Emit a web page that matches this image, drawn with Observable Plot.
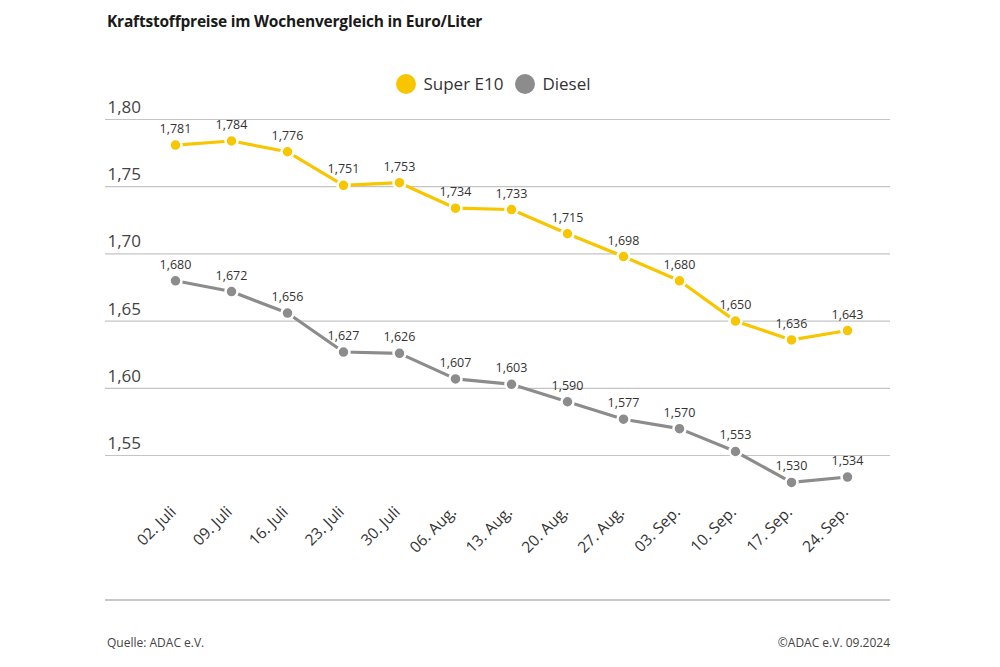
<!DOCTYPE html>
<html>
<head>
<meta charset="utf-8">
<script src="https://cdn.jsdelivr.net/npm/d3@7"></script>
<script src="https://cdn.jsdelivr.net/npm/@observablehq/plot@0.6"></script>
<style>
  html, body { margin: 0; padding: 0; background: #fff; }
  #wrap { position: relative; width: 1000px; height: 667px; font-family: "Open Sans", sans-serif; color: #222; overflow: hidden; }
  #title { position: absolute; left: 107px; top: 10px; font-size: 15.5px; font-weight: 700; color: #1a1a1a; letter-spacing: -0.2px; }
  #legend { position: absolute; left: 95px; width: 785px; top: 72px; display: flex; justify-content: center; align-items: center; font-size: 17px; color: #333; }
  .sw { display: inline-block; width: 20px; height: 20px; border-radius: 50%; margin: 0 7px 0 12px; }
  #chart { position: absolute; left: 0; top: 90px; }
  #rule { position: absolute; left: 105px; width: 785px; top: 599px; height: 0; border-top: 2.5px solid #c8c8c8; }
  #src { position: absolute; left: 107px; top: 634px; font-size: 12px; color: #444; }
  #copy { position: absolute; right: 110px; top: 634px; font-size: 12px; color: #444; }
</style>
</head>
<body>
<div id="wrap">
  <div id="title">Kraftstoffpreise im Wochenvergleich in Euro/Liter</div>
  <div id="legend"></div>
  <div id="chart"></div>
  <div id="rule"></div>
  <div id="src">Quelle: ADAC e.V.</div>
  <div id="copy">©ADAC e.V. 09.2024</div>
</div>
<script>
const dates = ["02. Juli","09. Juli","16. Juli","23. Juli","30. Juli","06. Aug.","13. Aug.","20. Aug.","27. Aug.","03. Sep.","10. Sep.","17. Sep.","24. Sep."];
const superE10 = [1.781,1.784,1.776,1.751,1.753,1.734,1.733,1.715,1.698,1.680,1.650,1.636,1.643];
const diesel = [1.680,1.672,1.656,1.627,1.626,1.607,1.603,1.590,1.577,1.570,1.553,1.530,1.534];
const yTicks = [1.80,1.75,1.70,1.65,1.60,1.55];
const seriesNames = ["Super E10","Diesel"];
const seriesColors = ["#f7c600","#8c8c8c"];

const de = d3.formatLocale({decimal: ",", thousands: ".", grouping: [3], currency: ["", " €"]});
const f3 = de.format(".3f");
const f2 = de.format(".2f");

const data = [];
dates.forEach((d, i) => {
  data.push({date: d, value: superE10[i], series: seriesNames[0]});
  data.push({date: d, value: diesel[i], series: seriesNames[1]});
});

// legend
const leg = document.getElementById("legend");
seriesNames.forEach((n, i) => {
  const s = document.createElement("span");
  s.className = "sw"; s.style.background = seriesColors[i];
  leg.appendChild(s);
  const t = document.createElement("span");
  t.textContent = n;
  leg.appendChild(t);
});

const chart = Plot.plot({
  width: 1000,
  height: 486,
  marginTop: 29,
  marginLeft: 105,
  marginRight: 110,
  marginBottom: 60,
  style: {fontFamily: "Open Sans, sans-serif", background: "transparent"},
  x: {type: "point", domain: dates, range: [172, 850], padding: 0},
  y: {domain: [1.505, 1.80], range: [425.5, 29], axis: null},
  color: {domain: seriesNames, range: seriesColors},
  marks: [
    Plot.ruleY(yTicks, {stroke: "#c4c4c4", strokeWidth: 1.2}),
    Plot.text(yTicks, {y: d => d, text: d => f2(d), frameAnchor: "left", textAnchor: "start", dx: 2, dy: -12, fontSize: 17, fill: "#444"}),
    Plot.axisX({tickSize: 0, tickRotate: -45, tickPadding: 0, fontSize: 15.5, color: "#333", label: null, dy: -7, dx: -2}),
    Plot.line(data, {x: "date", y: "value", z: "series", stroke: "series", strokeWidth: 3.2}),
    Plot.dot(data, {x: "date", y: "value", fill: "series", r: 6, stroke: "white", strokeWidth: 2.5}),
    Plot.text(data, {x: "date", y: "value", text: d => f3(d.value), dy: -16, fontSize: 12.5, fill: "#333"})
  ]
});
document.getElementById("chart").appendChild(chart);
</script>
</body>
</html>
